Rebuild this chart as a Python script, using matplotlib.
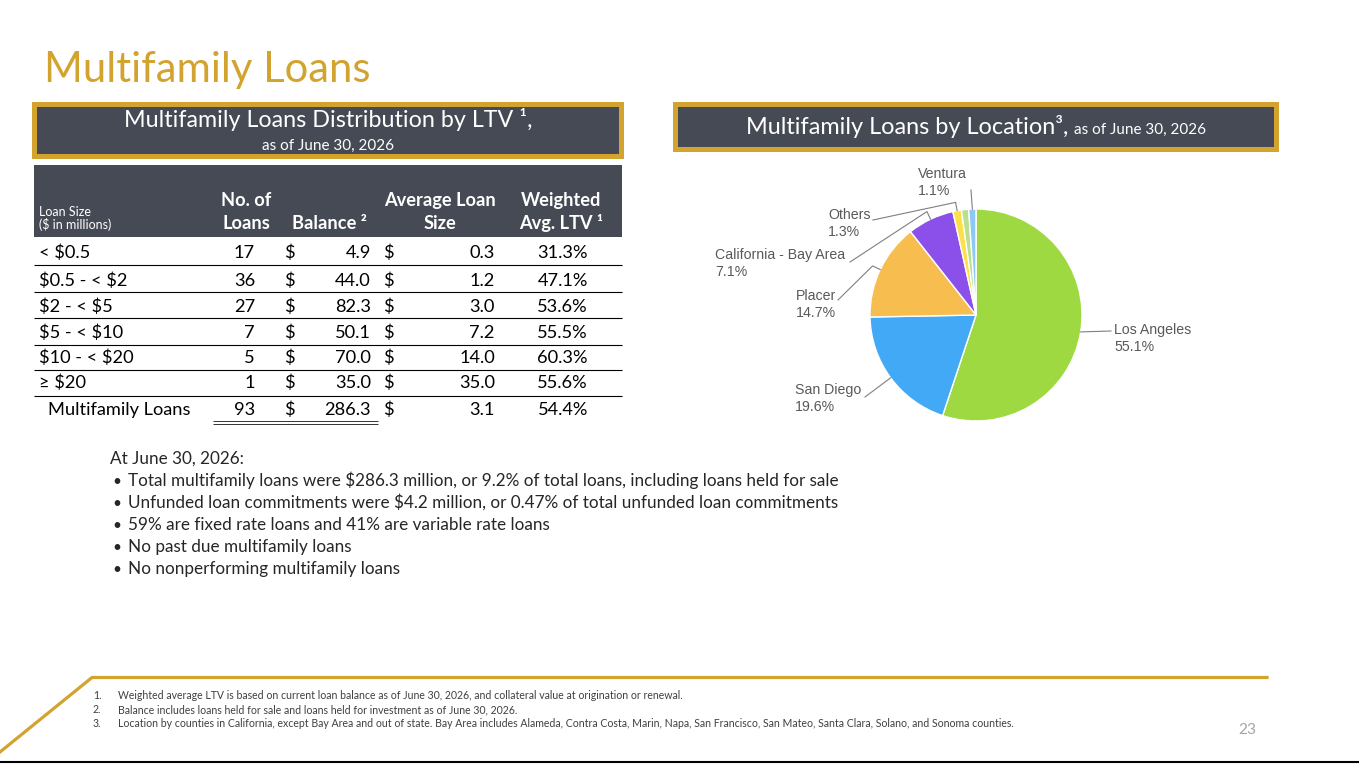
import matplotlib
matplotlib.use('Agg')
import matplotlib.pyplot as plt
from matplotlib.patches import Rectangle
import numpy as np

plt.rcParams['text.parse_math'] = False

# ---------------- data ----------------
loan_sizes = ["< $0.5", "$0.5 - < $2", "$2 - < $5", "$5 - < $10", "$10 - < $20", "≥ $20"]
num_loans = [17, 36, 27, 7, 5, 1]
balances = [4.9, 44.0, 82.3, 50.1, 70.0, 35.0]
avg_loan_size = [0.3, 1.2, 3.0, 7.2, 14.0, 35.0]
wavg_ltv = [31.3, 47.1, 53.6, 55.5, 60.3, 55.6]
total_label = "Multifamily Loans"
total_loans = 93
total_balance = 286.3
total_avg = 3.1
total_ltv = 54.4

locations = ["Los Angeles", "San Diego", "Placer", "California - Bay Area", "Others", "", "Ventura"]
location_pct = [55.1, 19.6, 14.7, 7.1, 1.3, 1.1, 1.1]
location_colors = ['#9ED942', '#42A9F6', '#F7BD4E', '#8B50E9', '#FCE04A', '#B9E08D', '#8FC8F4']

bullets = [
    "Total multifamily loans were $286.3 million, or 9.2% of total loans, including loans held for sale",
    "Unfunded loan commitments were $4.2 million, or 0.47% of total unfunded loan commitments",
    "59% are fixed rate loans and 41% are variable rate loans",
    "No past due multifamily loans",
    "No nonperforming multifamily loans",
]
footnotes = [
    "Weighted average LTV is based on current loan balance as of June 30, 2026, and collateral value at origination or renewal.",
    "Balance includes loans held for sale and loans held for investment as of June 30, 2026.",
    "Location by counties in California, except Bay Area and out of state. Bay Area includes Alameda, Contra Costa, Marin, Napa, San Francisco, San Mateo, Santa Clara, Solano, and Sonoma counties.",
]

# ---------------- setup ----------------
W, H = 1359, 764
GOLD = '#D2A42F'
DARK = '#454A54'
FONT = ['Lato', 'DejaVu Sans']
PIEFONT = ['Liberation Sans', 'DejaVu Sans']

fig = plt.figure(figsize=(W / 100, H / 100), dpi=100)
fig.patch.set_facecolor('white')
bg = fig.add_axes([0, 0, 1, 1])
bg.set_xlim(0, W)
bg.set_ylim(H, 0)
bg.axis('off')
R = fig.canvas.get_renderer()


def txt(x, y, s, width=None, size=12, **kw):
    kw.setdefault('family', FONT)
    kw.setdefault('va', 'baseline')
    t = bg.text(x, y, s, fontsize=size, parse_math=False, **kw)
    if width:
        bb = t.get_window_extent(R)
        t.set_fontsize(size * width / bb.width)
    return t


def fit_size(s, width, size=12, **kw):
    kw.setdefault('family', FONT)
    t = bg.text(0, 0, s, fontsize=size, parse_math=False, **kw)
    bb = t.get_window_extent(R)
    t.remove()
    return size * width / bb.width


# ---------------- title ----------------
txt(44, 82, "Multifamily Loans", width=325, color=GOLD)

# ---------------- left header box ----------------
bg.add_patch(Rectangle((32, 102), 592, 57, facecolor=GOLD, edgecolor='none'))
bg.add_patch(Rectangle((37, 107), 582, 47, facecolor=DARK, edgecolor='none'))
txt(328, 127, "Multifamily Loans Distribution by LTV ¹,", width=405, color='white', ha='center')
txt(328, 150, "as of June 30, 2026", width=132, color='white', ha='center')

# ---------------- right header box ----------------
bg.add_patch(Rectangle((673, 102), 606, 50, facecolor=GOLD, edgecolor='none'))
bg.add_patch(Rectangle((678, 107), 596, 40, facecolor=DARK, edgecolor='none'))
t1 = txt(746, 134, "Multifamily Loans by Location³,", width=322, color='white')
bb = t1.get_window_extent(R)
txt(bb.x1 + 6, 134, "as of June 30, 2026", width=132, color='white')

# ---------------- table ----------------
bg.add_patch(Rectangle((34, 165), 588, 72, facecolor=DARK, edgecolor='none'))
hs = fit_size("Average Loan", 111, weight='bold')
hk = dict(color='white', weight='bold', size=hs, ha='center')
txt(246, 206, "No. of", **hk)
txt(246, 229, "Loans", **hk)
txt(329, 229, "Balance ²", **hk)
txt(440, 206, "Average Loan", **hk)
txt(440, 229, "Size", **hk)
txt(561, 206, "Weighted", **hk)
txt(561, 229, "Avg. LTV ¹", **hk)
ss = fit_size("Loan Size", 52)
txt(39, 216, "Loan Size", size=ss, color='white')
txt(39, 229, "($ in millions)", size=ss, color='white')

cs = fit_size(total_label, 142)
ck = dict(size=cs, color='black')
row_base = [258, 286, 312, 338, 363, 388]
for i, yb in enumerate(row_base):
    txt(39, yb, loan_sizes[i], **ck)
    txt(255, yb, f"{num_loans[i]}", ha='right', **ck)
    txt(284, yb, "$", **ck)
    txt(371, yb, f"{balances[i]:.1f}", ha='right', **ck)
    txt(383, yb, "$", **ck)
    txt(495, yb, f"{avg_loan_size[i]:.1f}", ha='right', **ck)
    txt(588, yb, f"{wavg_ltv[i]:.1f}%", ha='right', **ck)
yt = 415
txt(48, yt, total_label, **ck)
txt(255, yt, f"{total_loans}", ha='right', **ck)
txt(284, yt, "$", **ck)
txt(371, yt, f"{total_balance:.1f}", ha='right', **ck)
txt(383, yt, "$", **ck)
txt(495, yt, f"{total_avg:.1f}", ha='right', **ck)
txt(588, yt, f"{total_ltv:.1f}%", ha='right', **ck)

for y in [264.5, 292, 318, 345, 369.5, 395.5]:
    bg.plot([34, 622], [y, y], color='black', lw=0.8, solid_capstyle='butt')
for y in [420.5, 423.5]:
    bg.plot([213, 378], [y, y], color='#333333', lw=0.7, solid_capstyle='butt')

# ---------------- bullets ----------------
bsz = fit_size(bullets[0], 708)
txt(110, 464, "At June 30, 2026:", size=bsz, color='#262626')
for i, b in enumerate(bullets):
    yb = 486 + 22 * i
    txt(112, yb, "•", size=bsz * 0.9, color='#262626')
    txt(128, yb, b, size=bsz, color='#262626')

# ---------------- footer ----------------
bg.plot([0, 92, 1267], [752, 677.5, 677.5], color=GOLD, lw=2.3, solid_joinstyle='miter')
bg.plot([0, W], [762, 762], color='black', lw=1.5)
fsz = fit_size(footnotes[2], 888)
for i, f in enumerate(footnotes):
    yb = 699 + 14 * i
    txt(93, yb, f"{i + 1}.", size=fsz, color='#404040')
    txt(118, yb, f, size=fsz, color='#404040')
txt(1256, 734, "23", width=18, color='#A6A6A6', ha='right')

# ---------------- pie ----------------
cx, cy, r = 976, 315, 106
x0, x1, y0, y1 = 680, 1290, 150, 440
pax = fig.add_axes([x0 / W, 1 - y1 / H, (x1 - x0) / W, (y1 - y0) / H])
wedges, _ = pax.pie(location_pct, colors=location_colors, startangle=90, counterclock=False,
                    radius=1.0, wedgeprops=dict(edgecolor='white', linewidth=1.0))
pax.set_aspect('auto')
pax.set_xlim((x0 - cx) / r, (x1 - cx) / r)
pax.set_ylim((cy - y1) / r, (cy - y0) / r)
pax.axis('off')


def p2d(x, y):
    return ((x - cx) / r, (cy - y) / r)


def polar(theta_deg, rr):
    t = np.deg2rad(theta_deg)
    return (rr * np.cos(t), rr * np.sin(t))


# layout for labels: (text left x, first baseline y, line start px, hook radius)
label_layout = {
    "Los Angeles": (1114, 334, (1111, 331), None),
    "San Diego": (795, 394, (865, 397), 1.06),
    "Placer": (796, 300, (838, 300), 1.08),
    "California - Bay Area": (715, 259, (850, 262), 1.08),
    "Others": (828, 219, (873, 220), 1.08),
    "Ventura": (918, 178, (971, 190), None),
}
psz = fit_size("Los Angeles", 77, family=PIEFONT)
for w, name, pct in zip(wedges, locations, location_pct):
    if not name:
        continue
    lx, ly, start, hook = label_layout[name]
    txt(lx, ly, name, size=psz, color='#595959', family=PIEFONT)
    txt(lx, ly + 17, f"{pct:.1f}%", size=psz, color='#595959', family=PIEFONT)
    mid = (w.theta1 + w.theta2) / 2.0
    pts = [p2d(*start)]
    if hook:
        pts.append(polar(mid, hook))
    pts.append(polar(mid, 1.0))
    xs, ys = zip(*pts)
    pax.plot(xs, ys, color='#7F7F7F', lw=0.8)

fig.savefig('out.png', dpi=100, facecolor='white')
